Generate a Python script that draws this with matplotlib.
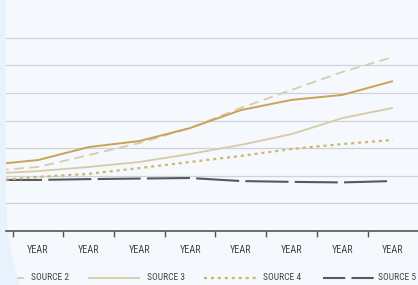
import matplotlib.pyplot as plt
import matplotlib.lines as mlines
from matplotlib.patches import Polygon
import numpy as np

plt.rcParams['lines.scale_dashes'] = False
plt.rcParams['font.family'] = ['Roboto Condensed', 'DejaVu Sans']

# data (first point sits just left of the visible area)
periods = ['', 'YEAR', 'YEAR', 'YEAR', 'YEAR', 'YEAR', 'YEAR', 'YEAR', 'YEAR']
source1 = [2.39, 2.57, 3.04, 3.26, 3.73, 4.38, 4.75, 4.93, 5.43]
source2 = [2.17, 2.32, 2.75, 3.19, 3.73, 4.46, 5.11, 5.76, 6.30]
source3 = [2.07, 2.17, 2.32, 2.50, 2.79, 3.12, 3.51, 4.09, 4.46]
source4 = [1.81, 1.96, 2.07, 2.28, 2.50, 2.72, 2.97, 3.15, 3.30]
source5 = [1.85, 1.85, 1.88, 1.90, 1.92, 1.81, 1.78, 1.76, 1.81]

W, H = 418, 285
fig = plt.figure(figsize=(W / 100, H / 100), dpi=100, facecolor='#f5f8fc')

# bluish strip down the left edge, widening at the bottom
edge = [(0, 0), (6, 0), (6, 200), (7, 222), (9, 240), (12, 256), (15, 270), (20, 285), (0, 285)]
strip = Polygon([(px / W, 1 - py / H) for px, py in edge], closed=True,
                transform=fig.transFigure, facecolor='#e8f2fd', edgecolor='none', zorder=-5)
fig.patches.append(strip)

ax = fig.add_axes([6 / W, (H - 231) / H, 1 - 6 / W, 231 / H])
ax.set_facecolor('none')

x = np.arange(len(periods))
styles = {
    'SOURCE 1': dict(color='#c9a457', lw=1.4, ls='-'),
    'SOURCE 2': dict(color='#dacca6', lw=1.3, ls=(0, (7, 4))),
    'SOURCE 3': dict(color='#d6cba6', lw=1.3, ls='-'),
    'SOURCE 4': dict(color='#cdb86a', lw=1.6, ls=(0, (2.2, 2.8))),
    'SOURCE 5': dict(color='#555a60', lw=1.5, ls=(0, (31, 4.5))),
}
series = {'SOURCE 1': source1, 'SOURCE 2': source2, 'SOURCE 3': source3,
          'SOURCE 4': source4, 'SOURCE 5': source5}
for name in ['SOURCE 5', 'SOURCE 4', 'SOURCE 3', 'SOURCE 2', 'SOURCE 1']:
    ax.plot(x, series[name], solid_capstyle='butt', dash_capstyle='butt', **styles[name])

ax.set_yticks(np.arange(1, 8))
ax.set_yticklabels([])
ax.tick_params(axis='y', length=0)
ax.grid(axis='y', color='#cfd3d8', lw=0.9, zorder=0)

ax.set_xticks(x)
ax.set_xticklabels(periods, fontsize=7.3, color='#444444')
ax.set_xticks(x[:-1] + 0.5, minor=True)
ax.tick_params(axis='x', which='major', length=0, pad=10)
ax.tick_params(axis='x', which='minor', length=4, width=1, color='#555555', direction='out')

# limits last, so set_xticks cannot widen them
ax.set_xlim(1 - 32 / 50.7, 1 + 380 / 50.7)
ax.set_ylim(0, 231 / 27.6)

for s in ['top', 'right', 'left']:
    ax.spines[s].set_visible(False)
ax.spines['bottom'].set_color('#555555')
ax.spines['bottom'].set_linewidth(1.2)

# legend row along the bottom (SOURCE 1 falls off the left edge)
legend = [
    ('SOURCE 2', 17, 24, 31, (0, (6, 4))),
    ('SOURCE 3', 89, 139, 147, '-'),
    ('SOURCE 4', 204, 258, 263, (0, (2.2, 2.8))),
    ('SOURCE 5', 323, 375, 378, (0, (16, 4.5))),
]
ly = 1 - 278 / H
for name, x0, x1, tx, ls in legend:
    st = styles[name]
    fig.add_artist(mlines.Line2D([x0 / W, x1 / W], [ly, ly], transform=fig.transFigure,
                                 color=st['color'], lw=st['lw'], ls=ls))
    fig.text(tx / W, ly, name, fontsize=6.8, color='#444444', ha='left', va='center')

fig.savefig('out.png', dpi=100, facecolor=fig.get_facecolor())
